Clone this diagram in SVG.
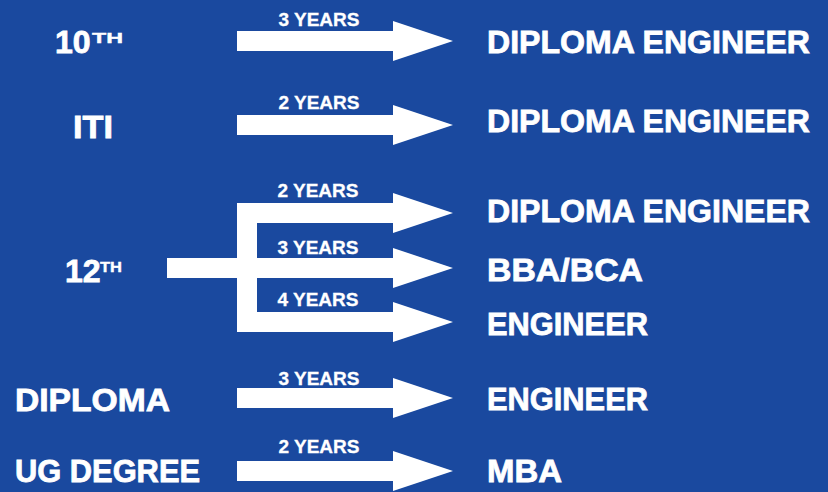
<svg xmlns="http://www.w3.org/2000/svg" xmlns:xlink="http://www.w3.org/1999/xlink" width="828" height="492" viewBox="0 0 828 492">
  <defs>
    <polygon id="arrow" points="0,-10 156,-10 156,-20 216,0 156,20 156,10 0,10"/>
    <style>
      .bg { fill: #1a499f; }
      .conn { fill: #ffffff; }
      .big { font-family: "Liberation Sans", Arial, sans-serif; font-weight: bold; font-size: 32px; fill: #ffffff; stroke: #ffffff; stroke-width: 0.8px; }
      .sup { font-family: "Liberation Sans", Arial, sans-serif; font-weight: bold; font-size: 15px; fill: #ffffff; stroke: #ffffff; stroke-width: 0.4px; }
      .yr { font-family: "Liberation Sans", Arial, sans-serif; font-weight: bold; font-size: 19px; fill: #ffffff; text-anchor: middle; stroke: #ffffff; stroke-width: 0.3px; }
    </style>
  </defs>
  <rect class="bg" x="0" y="0" width="828" height="492"/>

  <g id="connectors" class="conn">
    <use xlink:href="#arrow" x="237" y="41"/>
    <use xlink:href="#arrow" x="237" y="125"/>
    <rect x="167" y="258" width="90" height="20"/>
    <rect x="237" y="203" width="20" height="129"/>
    <use xlink:href="#arrow" x="237" y="213"/>
    <use xlink:href="#arrow" x="237" y="268"/>
    <use xlink:href="#arrow" x="237" y="322"/>
    <use xlink:href="#arrow" x="237" y="398"/>
    <use xlink:href="#arrow" x="237" y="471"/>
    <text class="yr" x="319" y="26">3 YEARS</text>
    <text class="yr" x="319" y="109">2 YEARS</text>
    <text class="yr" x="318" y="197">2 YEARS</text>
    <text class="yr" x="318" y="254">3 YEARS</text>
    <text class="yr" x="318" y="306">4 YEARS</text>
    <text class="yr" x="319" y="385">3 YEARS</text>
    <text class="yr" x="319" y="453">2 YEARS</text>
  </g>

  <g id="node-10th">
    <text class="big" x="55" y="53">10</text>
    <text class="sup" x="92" y="43" textLength="31" lengthAdjust="spacingAndGlyphs">TH</text>
  </g>
  <g id="node-iti">
    <text class="big" x="73" y="138" textLength="40" lengthAdjust="spacingAndGlyphs">ITI</text>
  </g>
  <g id="node-12th">
    <text class="big" x="65" y="282">12</text>
    <text class="sup" x="100" y="272" textLength="22" lengthAdjust="spacingAndGlyphs">TH</text>
  </g>
  <g id="node-diploma">
    <text class="big" x="15" y="411" textLength="155" lengthAdjust="spacingAndGlyphs">DIPLOMA</text>
  </g>
  <g id="node-ug-degree">
    <text class="big" x="15" y="482" textLength="185" lengthAdjust="spacingAndGlyphs">UG DEGREE</text>
  </g>

  <g id="node-diploma-engineer-1">
    <text class="big" x="487" y="53" textLength="323" lengthAdjust="spacingAndGlyphs">DIPLOMA ENGINEER</text>
  </g>
  <g id="node-diploma-engineer-2">
    <text class="big" x="487" y="132" textLength="323" lengthAdjust="spacingAndGlyphs">DIPLOMA ENGINEER</text>
  </g>
  <g id="node-diploma-engineer-3">
    <text class="big" x="487" y="222" textLength="323" lengthAdjust="spacingAndGlyphs">DIPLOMA ENGINEER</text>
  </g>
  <g id="node-bba-bca">
    <text class="big" x="487" y="281" textLength="156" lengthAdjust="spacingAndGlyphs">BBA/BCA</text>
  </g>
  <g id="node-engineer-1">
    <text class="big" x="487" y="335" textLength="161" lengthAdjust="spacingAndGlyphs">ENGINEER</text>
  </g>
  <g id="node-engineer-2">
    <text class="big" x="487" y="410" textLength="161" lengthAdjust="spacingAndGlyphs">ENGINEER</text>
  </g>
  <g id="node-mba">
    <text class="big" x="487" y="482" textLength="75" lengthAdjust="spacingAndGlyphs">MBA</text>
  </g>
</svg>
